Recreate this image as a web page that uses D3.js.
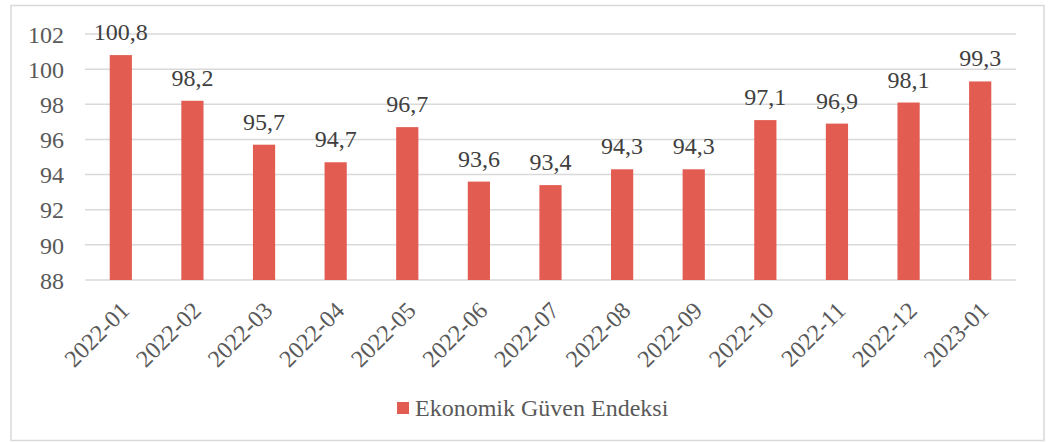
<!DOCTYPE html>
<html>
<head>
<meta charset="utf-8">
<script src="https://cdn.jsdelivr.net/npm/d3@7"></script>
<style>
  body { margin: 0; background: #fff; }
</style>
</head>
<body>
<svg id="chart" width="1051" height="442"></svg>
<script>
// Ekonomik Güven Endeksi, monthly
var months = ["2022-01", "2022-02", "2022-03", "2022-04", "2022-05", "2022-06", "2022-07",
              "2022-08", "2022-09", "2022-10", "2022-11", "2022-12", "2023-01"];
var values = [100.8, 98.2, 95.7, 94.7, 96.7, 93.6, 93.4, 94.3, 94.3, 97.1, 96.9, 98.1, 99.3];
var yTicks = [88, 90, 92, 94, 96, 98, 100, 102];
var seriesName = "Ekonomik Güven Endeksi";

var barColor = "#E25C51";
var gridColor = "#D9D9D9";
var font = "'Liberation Serif', 'Times New Roman', 'DejaVu Serif', serif";
var fontSize = "24px";

var svg = d3.select("#chart");

// outer frame
svg.append("rect")
  .attr("x", 11).attr("y", 5.5)
  .attr("width", 1033).attr("height", 435)
  .attr("fill", "none")
  .attr("stroke", gridColor)
  .attr("stroke-width", 1.5);

var plotLeft = 85, plotRight = 1016, plotTop = 34, plotBottom = 280;

var x = d3.scaleBand().domain(months).range([plotLeft, plotRight]).paddingInner(0.69).paddingOuter(0.345);
var y = d3.scaleLinear().domain([88, 102]).range([plotBottom, plotTop]);

// gridlines
svg.append("g").selectAll("line")
  .data(yTicks)
  .enter().append("line")
  .attr("x1", plotLeft).attr("x2", plotRight)
  .attr("y1", function (d) { return y(d); })
  .attr("y2", function (d) { return y(d); })
  .attr("stroke", gridColor)
  .attr("stroke-width", 1.5);

// y axis labels
var yAxis = d3.axisLeft(y).tickValues(yTicks).tickSize(0).tickPadding(0);
var gy = svg.append("g").attr("transform", "translate(" + (plotLeft - 21) + ",0)").call(yAxis);
gy.select(".domain").remove();
gy.attr("font-family", null).attr("font-size", null);
gy.selectAll("text")
  .attr("fill", "#595959")
  .style("font-family", font)
  .style("font-size", fontSize)
  .attr("dy", "0.34em");

// bars
svg.append("g").selectAll("rect")
  .data(values)
  .enter().append("rect")
  .attr("x", function (d, i) { return x(months[i]); })
  .attr("width", x.bandwidth())
  .attr("y", function (d) { return y(d); })
  .attr("height", function (d) { return plotBottom - y(d); })
  .attr("fill", barColor);

// value labels
svg.append("g").selectAll("text")
  .data(values)
  .enter().append("text")
  .attr("x", function (d, i) { return x(months[i]) + x.bandwidth() / 2; })
  .attr("y", function (d) { return y(d) - 15; })
  .attr("text-anchor", "middle")
  .attr("fill", "#404040")
  .style("font-family", font)
  .style("font-size", fontSize)
  .text(function (d) { return d.toFixed(1).replace(".", ","); });

// x axis labels, rotated
var xAxis = d3.axisBottom(x).tickSize(0).tickPadding(0);
var gx = svg.append("g").attr("transform", "translate(0," + plotBottom + ")").call(xAxis);
gx.select(".domain").remove();
gx.attr("font-family", null).attr("font-size", null);
gx.selectAll("text")
  .attr("fill", "#595959")
  .style("font-family", font)
  .style("font-size", fontSize)
  .attr("text-anchor", "end")
  .attr("dy", "0")
  .attr("transform", "translate(10,32) rotate(-45)");

// legend
var legend = svg.append("g").attr("transform", "translate(397,402)");
legend.append("rect").attr("width", 12).attr("height", 12).attr("fill", barColor);
legend.append("text")
  .attr("x", 18).attr("y", 14)
  .attr("fill", "#595959")
  .style("font-family", font)
  .style("font-size", fontSize)
  .text(seriesName);
</script>
</body>
</html>
